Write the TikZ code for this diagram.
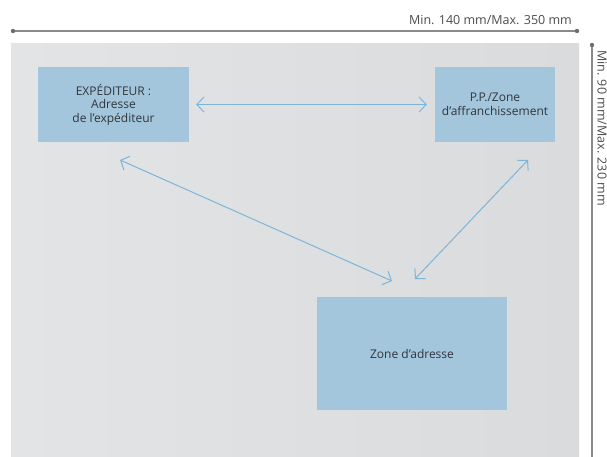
\documentclass[tikz,border=0pt]{standalone}
\usepackage{fontspec}
\setmainfont{Open Sans}
\usetikzlibrary{arrows.meta}
\definecolor{envgrayL}{HTML}{E3E4E6}
\definecolor{envgrayR}{HTML}{DADBDD}
\definecolor{boxblue}{HTML}{A3C6DC}
\definecolor{arrowblue}{HTML}{7DB5D8}
\definecolor{txtdark}{HTML}{30363C}
\definecolor{dimgray}{HTML}{8A8A8A}
\tikzset{
  zonebox/.style={fill=boxblue, draw=none, inner sep=0pt, align=center,
    text=txtdark, font=\fontsize{12}{13.5}\selectfont},
  linkarrow/.style={draw=arrowblue, line width=1pt,
    {Straight Barb[length=7pt,width=15pt,line width=1pt]}-{Straight Barb[length=7pt,width=15pt,line width=1pt]}},
  dimline/.style={draw=dimgray, line width=1.2pt},
  dimtext/.style={text=black!70, font=\fontsize{12.5}{14}\selectfont, inner sep=0pt}
}
\begin{document}
\begin{tikzpicture}[x=1pt,y=-1pt]
\useasboundingbox (0,0) rectangle (607,457);
\fill[left color=envgrayL, right color=envgrayR] (11,44) rectangle (579,457);
% dimension lines
\coordinate (tl) at (13,31);
\coordinate (tr) at (577,31);
\draw[dimline] (tl) -- (tr);
\fill[dimgray!80!black] (tl) circle (2.2);
\fill[dimgray!80!black] (tr) circle (2.2);
\node[dimtext, anchor=south east] (wtext) at (572,25) {Min. 140 mm/Max. 350 mm};
\coordinate (vt) at (592,45);
\coordinate (vb) at (592,457);
\draw[dimline] (vt) -- (vb);
\fill[dimgray!80!black] (vt) circle (2.2);
\node[dimtext, rotate=-90, anchor=north west] (htext) at (607,50) {Min. 90 mm/Max. 230 mm};
% boxes
\node[zonebox, minimum width=151, minimum height=75] (s) at (113.5,104.5)
  {EXPÉDITEUR :\\Adresse\\de l’expéditeur};
\node[zonebox, minimum width=120, minimum height=75] (p) at (495,104.5)
  {P.P./Zone\\d’affranchissement};
\node[zonebox, minimum width=190, minimum height=113] (z) at (412,353.5)
  {Zone d'adresse};
% connectors
\coordinate (a1) at (120,160);
\coordinate (a2) at (392,281);
\coordinate (b1) at (528,160);
\coordinate (b2) at (415,279);
\draw[linkarrow, shorten <=7, shorten >=8] (s.east) -- (p.west);
\draw[linkarrow] (a1) -- (a2);
\draw[linkarrow] (b1) -- (b2);
\end{tikzpicture}
\end{document}
